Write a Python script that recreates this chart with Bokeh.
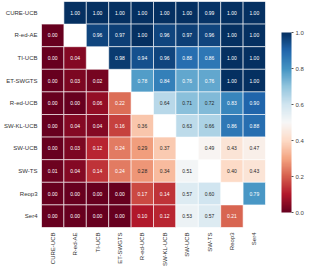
import numpy as np
from bokeh.plotting import figure
from bokeh.models import (ColumnDataSource, LinearColorMapper, ColorBar, FixedTicker,
                          FactorRange, PrintfTickFormatter)
from bokeh.core.properties import value
from bokeh.embed import file_html
from bokeh.resources import INLINE

methods = ["CURE-UCB", "R-ed-AE", "TI-UCB", "ET-SWGTS", "R-ed-UCB",
           "SW-KL-UCB", "SW-UCB", "SW-TS", "Reop3", "Ser4"]

row_cure_ucb  = [None, 1.00, 1.00, 1.00, 1.00, 1.00, 1.00, 0.99, 1.00, 1.00]
row_r_ed_ae   = [0.00, None, 0.96, 0.97, 1.00, 0.96, 0.97, 0.96, 1.00, 1.00]
row_ti_ucb    = [0.00, 0.04, None, 0.98, 0.94, 0.96, 0.88, 0.86, 1.00, 1.00]
row_et_swgts  = [0.00, 0.03, 0.02, None, 0.78, 0.84, 0.76, 0.76, 1.00, 1.00]
row_r_ed_ucb  = [0.00, 0.00, 0.06, 0.22, None, 0.64, 0.71, 0.72, 0.83, 0.90]
row_sw_kl_ucb = [0.00, 0.04, 0.04, 0.16, 0.36, None, 0.63, 0.66, 0.86, 0.88]
row_sw_ucb    = [0.00, 0.03, 0.12, 0.24, 0.29, 0.37, None, 0.49, 0.43, 0.47]
row_sw_ts     = [0.01, 0.04, 0.14, 0.24, 0.28, 0.34, 0.51, None, 0.40, 0.43]
row_reop3     = [0.00, 0.00, 0.00, 0.00, 0.17, 0.14, 0.57, 0.60, None, 0.79]
row_ser4      = [0.00, 0.00, 0.00, 0.00, 0.10, 0.12, 0.53, 0.57, 0.21, None]

rows = [row_cure_ucb, row_r_ed_ae, row_ti_ucb, row_et_swgts, row_r_ed_ucb,
        row_sw_kl_ucb, row_sw_ucb, row_sw_ts, row_reop3, row_ser4]

cbar_ticks = [0.0, 0.2, 0.4, 0.6, 0.8, 1.0]

# RdBu colormap (red -> blue), interpolated to 256 steps
anchors = ["#67001f", "#b2182b", "#d6604d", "#f4a582", "#fddbc7", "#f7f7f7",
           "#d1e5f0", "#92c5de", "#4393c3", "#2166ac", "#053061"]
arr = np.array([[int(h[i:i + 2], 16) for i in (1, 3, 5)] for h in anchors], dtype=float)
pos = np.linspace(0, 1, len(anchors))
t = np.linspace(0, 1, 256)
interp = np.stack([np.interp(t, pos, arr[:, k]) for k in range(3)], axis=1)
palette = ["#%02x%02x%02x" % tuple(int(round(c)) for c in rgb) for rgb in interp]


def lum(rgb):
    c = np.array(rgb) / 255.0
    c = np.where(c <= 0.03928, c / 12.92, ((c + 0.055) / 1.055) ** 2.4)
    return 0.2126 * c[0] + 0.7152 * c[1] + 0.0722 * c[2]


xs, ys, vals, cols, labels, tcols = [], [], [], [], [], []
for r, row in zip(methods, rows):
    for c, v in zip(methods, row):
        if v is None:
            continue
        idx = min(255, int(v * 256))
        xs.append(c)
        ys.append(r)
        vals.append(v)
        cols.append(palette[idx])
        labels.append("%.2f" % v)
        tcols.append("#262626" if lum(interp[idx]) > 0.408 else "#ffffff")

src = ColumnDataSource(dict(x=xs, y=ys, v=vals, color=cols, label=labels, tcolor=tcols))

p = figure(x_range=FactorRange(*methods), y_range=FactorRange(*list(reversed(methods))),
           frame_width=224, frame_height=226, output_backend="svg", toolbar_location=None,
           min_border_top=1, min_border_left=0, min_border_right=0, min_border_bottom=0)
p.outline_line_color = None
p.grid.visible = False
p.background_fill_color = "white"

p.rect(x="x", y="y", width=1, height=1, source=src, fill_color="color",
       line_color="white", line_width=0.6)
p.text(x="x", y="y", text="label", source=src, text_color="tcolor",
       text_align="center", text_baseline="middle", text_font_size="5px",
       text_font=value("Liberation Sans"))

for ax in (p.xaxis[0], p.yaxis[0]):
    ax.axis_line_color = None
    ax.major_tick_line_color = None
    ax.minor_tick_line_color = None
    ax.major_tick_out = 0
    ax.major_tick_in = 0
    ax.major_label_text_font_size = "6px"
    ax.major_label_text_font = "Liberation Sans"
    ax.major_label_text_color = "#333333"
    ax.major_label_standoff = 4
p.xaxis[0].major_label_orientation = np.pi / 2
p.xaxis[0].major_label_standoff = 5

mapper = LinearColorMapper(palette=palette, low=0, high=1)
cb = ColorBar(color_mapper=mapper, ticker=FixedTicker(ticks=cbar_ticks), width=10, height=180,
              location=(14, 13), margin=14, padding=2, bar_line_color=None,
              border_line_color=None, background_fill_alpha=0,
              major_tick_out=2, major_tick_in=0, major_tick_line_color="#555555",
              major_label_text_font_size="6px", major_label_text_font="Liberation Sans",
              major_label_text_color="#444444", label_standoff=2,
              formatter=PrintfTickFormatter(format="%.1f"))
p.add_layout(cb, "right")

open("out.html", "w").write(file_html(p, INLINE))
